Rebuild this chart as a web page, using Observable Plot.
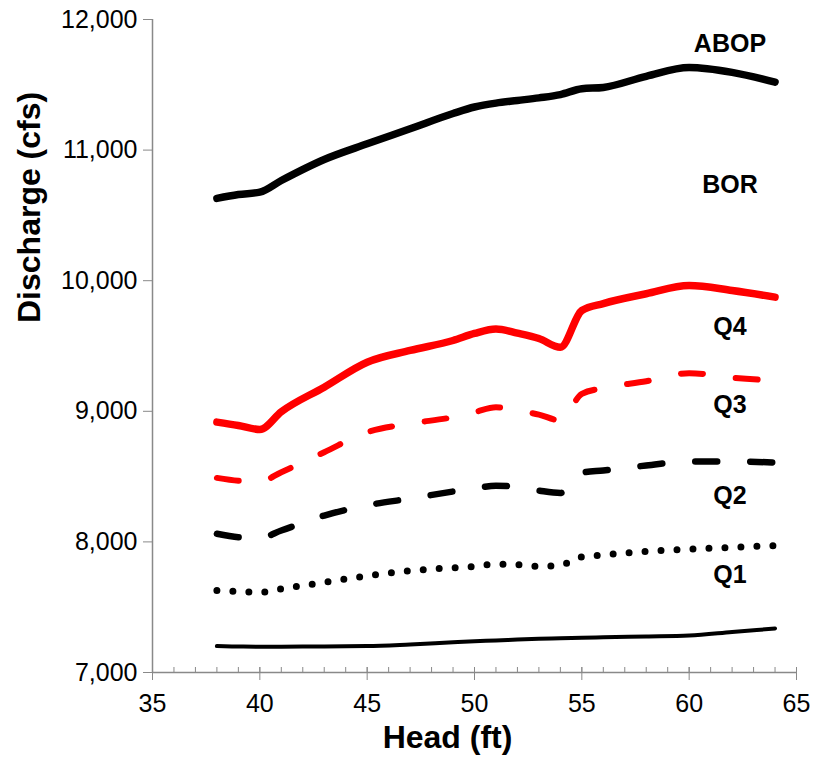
<!DOCTYPE html>
<html>
<head>
<meta charset="utf-8">
<script src="https://cdn.jsdelivr.net/npm/d3@7"></script>
<script src="https://cdn.jsdelivr.net/npm/@observablehq/plot@0.6"></script>
<style>
  html, body { margin: 0; padding: 0; background: #fff; }
</style>
</head>
<body>
<div id="chart"></div>
<script>
// Head (ft)
const heads = [38, 39, 40, 41, 43, 45, 47, 49, 50, 51, 52, 53, 54, 55, 56, 58, 60, 62, 64];
// Discharge (cfs) series
const abop   = [10630, 10660, 10678, 10767, 10928, 11048, 11163, 11280, 11330, 11360, 11380, 11400, 11425, 11470, 11480, 11565, 11632, 11595, 11520];
const q4     = [8917, 8891, 8861, 8997, 9185, 9376, 9466, 9542, 9596, 9630, 9598, 9557, 9490, 9772, 9825, 9900, 9963, 9925, 9874];
const q3     = [8490, 8468, 8462, 8534, 8687, 8840, 8906, 8955, 8993, 9031, 9006, 8975, 8930, 9134, 9178, 9230, 9292, 9257, 9236];
const q2     = [8062, 8036, 8030, 8087, 8202, 8280, 8332, 8386, 8410, 8430, 8420, 8393, 8375, 8530, 8547, 8585, 8616, 8616, 8608];
const q1     = [7628, 7620, 7613, 7641, 7690, 7740, 7779, 7802, 7812, 7830, 7825, 7812, 7822, 7885, 7900, 7927, 7944, 7958, 7972];
const bottom = [7202, 7199, 7197, 7198, 7200, 7202, 7215, 7232, 7240, 7245, 7252, 7258, 7262, 7266, 7270, 7276, 7283, 7310, 7337];

// Series labels (anchored in data units)
const labelNames = ["ABOP", "BOR", "Q4", "Q3", "Q2", "Q1"];
const labelHead  = [61.9, 61.9, 61.9, 61.9, 61.9, 61.9];
const labelQ     = [11809, 10729, 9649, 9052, 8348, 7750];

// Axis ticks
const xTicks = [35, 40, 45, 50, 55, 60, 65];
const xMinorTicks = d3.range(35, 66, 1);
const yTicks = [7000, 8000, 9000, 10000, 11000, 12000];

const table = (vals) => heads.map((h, i) => ({head: h, q: vals[i]}));
const labels = labelNames.map((n, i) => ({name: n, head: labelHead[i], q: labelQ[i]}));

const axisGrey = "#898989";
const curve = "monotone-x";

const chart = Plot.plot({
  width: 816,
  height: 759,
  marginLeft: 152,
  marginRight: 20,
  marginTop: 19,
  marginBottom: 87,
  style: {fontFamily: "'Liberation Sans', Arial, sans-serif", fontSize: "25px", color: "#000", background: "#fff"},
  x: {domain: [35, 65]},
  y: {domain: [7000, 12000]},
  marks: [
    // axis lines
    Plot.ruleX([35], {stroke: axisGrey, strokeWidth: 1.5}),
    Plot.ruleY([7000], {stroke: axisGrey, strokeWidth: 1.5}),
    // y axis
    Plot.axisY({ticks: yTicks, tickSize: 9, tickPadding: 6, stroke: axisGrey, fill: "#000", fontSize: 25, label: null}),
    // x minor ticks (above axis)
    Plot.axisX({ticks: xMinorTicks, tickSize: 5, dy: -5, tickFormat: () => "", stroke: axisGrey, label: null}),
    // x major ticks (crossing axis)
    Plot.axisX({ticks: xTicks, tickSize: 13, dy: -5, tickFormat: () => "", stroke: axisGrey, label: null}),
    // x tick labels
    Plot.axisX({ticks: xTicks, tickSize: 0, tickPadding: 22, fill: "#000", fontSize: 25, label: null}),
    // series
    Plot.line(table(bottom), {x: "head", y: "q", stroke: "#000", strokeWidth: 4, curve}),
    Plot.line(table(q1), {x: "head", y: "q", stroke: "#000", strokeWidth: 7, strokeDasharray: "0,16", strokeLinecap: "round", curve}),
    Plot.line(table(q2), {x: "head", y: "q", stroke: "#000", strokeWidth: 6.5, strokeDasharray: "22,33", strokeLinecap: "round", curve}),
    Plot.line(table(q3), {x: "head", y: "q", stroke: "#ff0000", strokeWidth: 6, strokeDasharray: "22,33", strokeLinecap: "round", curve}),
    Plot.line(table(q4), {x: "head", y: "q", stroke: "#ff0000", strokeWidth: 7.5, strokeLinecap: "round", curve}),
    Plot.line(table(abop), {x: "head", y: "q", stroke: "#000", strokeWidth: 7.5, strokeLinecap: "round", curve}),
    // series labels
    Plot.text(labels, {x: "head", y: "q", text: "name", fontSize: 25, fontWeight: "bold", fill: "#000"}),
    // axis titles
    Plot.text(["Head (ft)"], {frameAnchor: "bottom", text: d => d, dx: -27, dy: 75, fontSize: 32, fontWeight: "bold", fill: "#000"}),
    Plot.text(["Discharge (cfs)"], {frameAnchor: "left", text: d => d, rotate: -90, dx: -123, dy: -23, fontSize: 32, fontWeight: "bold", fill: "#000"})
  ]
});

document.getElementById("chart").appendChild(chart);
</script>
</body>
</html>
